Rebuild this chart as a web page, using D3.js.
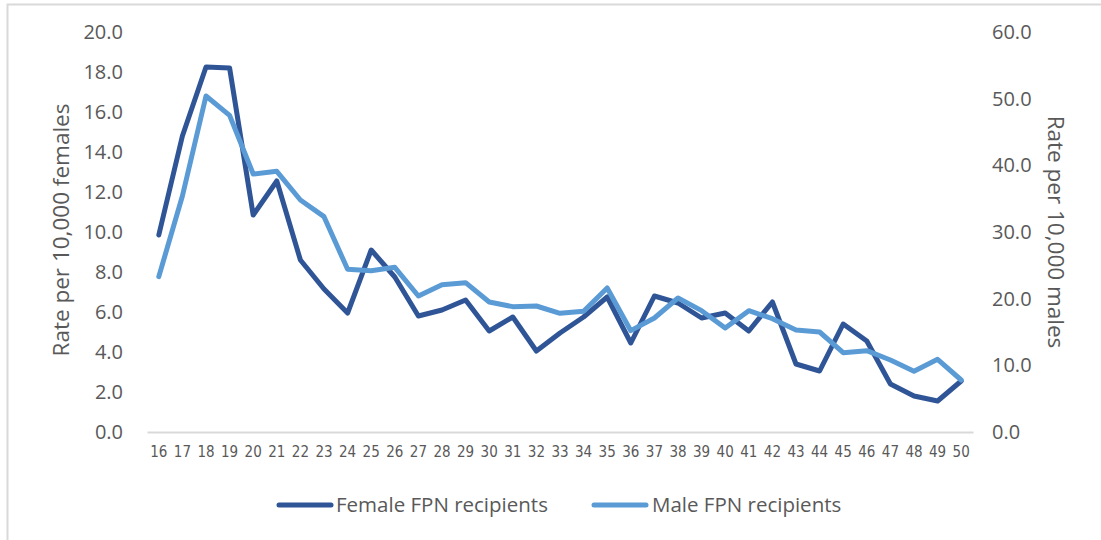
<!DOCTYPE html>
<html>
<head>
<meta charset="utf-8">
<script src="https://cdn.jsdelivr.net/npm/d3@7"></script>
<style>
  html, body { margin: 0; padding: 0; background: #fff; }
  svg { display: block; }
</style>
</head>
<body>
<svg id="chart" width="1101" height="540"></svg>
<script>
const ages = [16,17,18,19,20,21,22,23,24,25,26,27,28,29,30,31,32,33,34,35,36,37,38,39,40,41,42,43,44,45,46,47,48,49,50];
const femaleRates = [9.85,14.8,18.25,18.2,10.85,12.55,8.6,7.15,5.95,9.1,7.75,5.8,6.1,6.6,5.05,5.75,4.05,4.95,5.75,6.75,4.45,6.8,6.45,5.7,5.95,5.05,6.5,3.4,3.05,5.4,4.55,2.4,1.8,1.55,2.55];
const maleRates = [23.3,35.4,50.4,47.5,38.7,39.1,34.8,32.3,24.4,24.2,24.7,20.4,22.1,22.4,19.5,18.8,18.9,17.8,18.1,21.6,15.2,17.1,20.1,18.2,15.6,18.2,17.0,15.3,15.0,11.9,12.2,10.8,9.1,10.9,7.8];
const leftTicks = [0,2,4,6,8,10,12,14,16,18,20];
const rightTicks = [0,10,20,30,40,50,60];
const seriesNames = ["Female FPN recipients", "Male FPN recipients"];
const seriesColors = ["#2F5597", "#5B9BD5"];

const svg = d3.select("#chart");
const font = "'Open Sans', 'Liberation Sans', sans-serif";
const narrow = "'Liberation Sans Narrow', 'DejaVu Sans Condensed', 'Open Sans', sans-serif";
const textColor = "#595959";

// outer border (chart frame)
svg.append("path")
  .attr("d", "M7.5,540 L7.5,4.5 L1101,4.5")
  .attr("fill", "none").attr("stroke", "#d9d9d9").attr("stroke-width", 2);

const plot = {left: 147, right: 973, top: 32, bottom: 432};

const x = d3.scaleBand().domain(ages).range([plot.left, plot.right]);
const yL = d3.scaleLinear().domain([0, 20]).range([plot.bottom, plot.top]);
const yR = d3.scaleLinear().domain([0, 60]).range([plot.bottom, plot.top]);

// left axis
const leftAxis = svg.append("g")
  .attr("transform", `translate(${plot.left},0)`)
  .call(d3.axisLeft(yL).tickValues(leftTicks).tickFormat(d3.format(".1f")).tickSize(0).tickPadding(24));
leftAxis.select(".domain").remove();
leftAxis.selectAll("text").attr("font-family", font).attr("font-size", 20).attr("fill", textColor);

// right axis
const rightAxis = svg.append("g")
  .attr("transform", `translate(${plot.right},0)`)
  .call(d3.axisRight(yR).tickValues(rightTicks).tickFormat(d3.format(".1f")).tickSize(0).tickPadding(19));
rightAxis.select(".domain").remove();
rightAxis.selectAll("text").attr("font-family", font).attr("font-size", 20).attr("fill", textColor);

// x axis
const xAxis = svg.append("g")
  .attr("transform", `translate(0,${plot.bottom})`)
  .call(d3.axisBottom(x).tickSize(0).tickPadding(14));
xAxis.select(".domain").attr("stroke", "#d9d9d9").attr("stroke-width", 2);
xAxis.selectAll("text").attr("font-family", narrow).attr("font-size", 15).attr("fill", textColor);

// axis titles
svg.append("text")
  .attr("transform", `translate(69,230) rotate(-90)`)
  .attr("text-anchor", "middle")
  .attr("font-family", font).attr("font-size", 22.5).attr("fill", textColor)
  .text("Rate per 10,000 females");
svg.append("text")
  .attr("transform", `translate(1048,232) rotate(90)`)
  .attr("text-anchor", "middle")
  .attr("font-family", font).attr("font-size", 22.5).attr("fill", textColor)
  .text("Rate per 10,000 males");

// lines
const cx = d => x(d) + x.bandwidth() / 2;
const lineF = d3.line().x((d, i) => cx(ages[i])).y(d => yL(d));
const lineM = d3.line().x((d, i) => cx(ages[i])).y(d => yR(d));

svg.append("path").datum(femaleRates)
  .attr("d", lineF).attr("fill", "none")
  .attr("stroke", seriesColors[0]).attr("stroke-width", 5)
  .attr("stroke-linejoin", "round").attr("stroke-linecap", "round");
svg.append("path").datum(maleRates)
  .attr("d", lineM).attr("fill", "none")
  .attr("stroke", seriesColors[1]).attr("stroke-width", 5)
  .attr("stroke-linejoin", "round").attr("stroke-linecap", "round");

// legend
const legendItems = [{x: 279, tx: 336}, {x: 594, tx: 652}];
legendItems.forEach((it, i) => {
  svg.append("line")
    .attr("x1", it.x).attr("x2", it.x + 52).attr("y1", 505).attr("y2", 505)
    .attr("stroke", seriesColors[i]).attr("stroke-width", 5).attr("stroke-linecap", "round");
  svg.append("text")
    .attr("x", it.tx).attr("y", 505).attr("dy", "0.35em")
    .attr("font-family", font).attr("font-size", 20.5).attr("fill", textColor)
    .text(seriesNames[i]);
});
</script>
</body>
</html>
